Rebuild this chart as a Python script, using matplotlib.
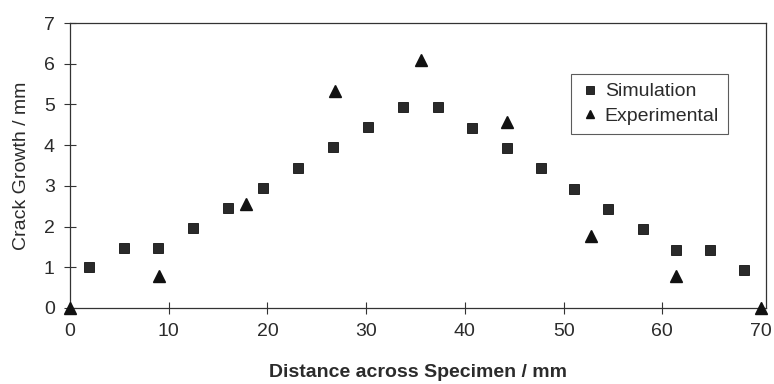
import matplotlib.pyplot as plt

plt.rcParams['font.family'] = ['Liberation Sans', 'DejaVu Sans']

# simulation results (distance, crack growth)
sim_x = [1.9, 5.5, 8.9, 12.5, 16.0, 19.6, 23.1, 26.6, 30.2, 33.7,
         37.3, 40.7, 44.3, 47.7, 51.1, 54.5, 58.0, 61.4, 64.8, 68.3]
sim_y = [1.0, 1.48, 1.47, 1.97, 2.45, 2.95, 3.45, 3.95, 4.45, 4.93,
         4.93, 4.43, 3.93, 3.43, 2.93, 2.43, 1.93, 1.43, 1.43, 0.93]

# experimental measurements
exp_x = [0, 9.0, 17.8, 26.8, 35.6, 44.3, 52.8, 61.4, 70]
exp_y = [0, 0.78, 2.55, 5.32, 6.1, 4.57, 1.76, 0.78, 0]

xticks = [0, 10, 20, 30, 40, 50, 60, 70]
yticks = [0, 1, 2, 3, 4, 5, 6, 7]

txt = '#2b2b2b'

fig = plt.figure(figsize=(7.74, 3.84), dpi=100)
ax = fig.add_axes([0.0904, 0.198, 0.8993, 0.742])

ax.plot(sim_x, sim_y, ls='none', marker='s', ms=7, color='#2a2a2a',
        mec='#111111', mew=0.6, label='Simulation', clip_on=False)
ax.plot(exp_x, exp_y, ls='none', marker='^', ms=8, color='#111111',
        label='Experimental', clip_on=False, zorder=3)

ax.set_xlim(0, 70.5)
ax.set_ylim(0, 7)
ax.set_xticks(xticks)
ax.set_yticks(yticks)
ax.tick_params(direction='inout', length=8, width=0.8, colors='#333333',
               labelsize=14, labelcolor=txt, pad=7)

for s in ax.spines.values():
    s.set_linewidth(0.9)
    s.set_color('#333333')

ax.set_xlabel('Distance across Specimen / mm', fontsize=14, fontweight='bold',
              color=txt, labelpad=17)
ax.set_ylabel('Crack Growth / mm', fontsize=14, color=txt, labelpad=10)

leg = ax.legend(loc='upper right', bbox_to_anchor=(0.945, 0.821), fontsize=14,
                frameon=True, fancybox=False, edgecolor='#333333',
                handlelength=1.1, handletextpad=0.2, borderpad=0.45,
                labelspacing=0.35, markerscale=0.8, borderaxespad=0)
leg.get_frame().set_linewidth(0.8)
for t in leg.get_texts():
    t.set_color(txt)

fig.savefig('out.png', dpi=100)
